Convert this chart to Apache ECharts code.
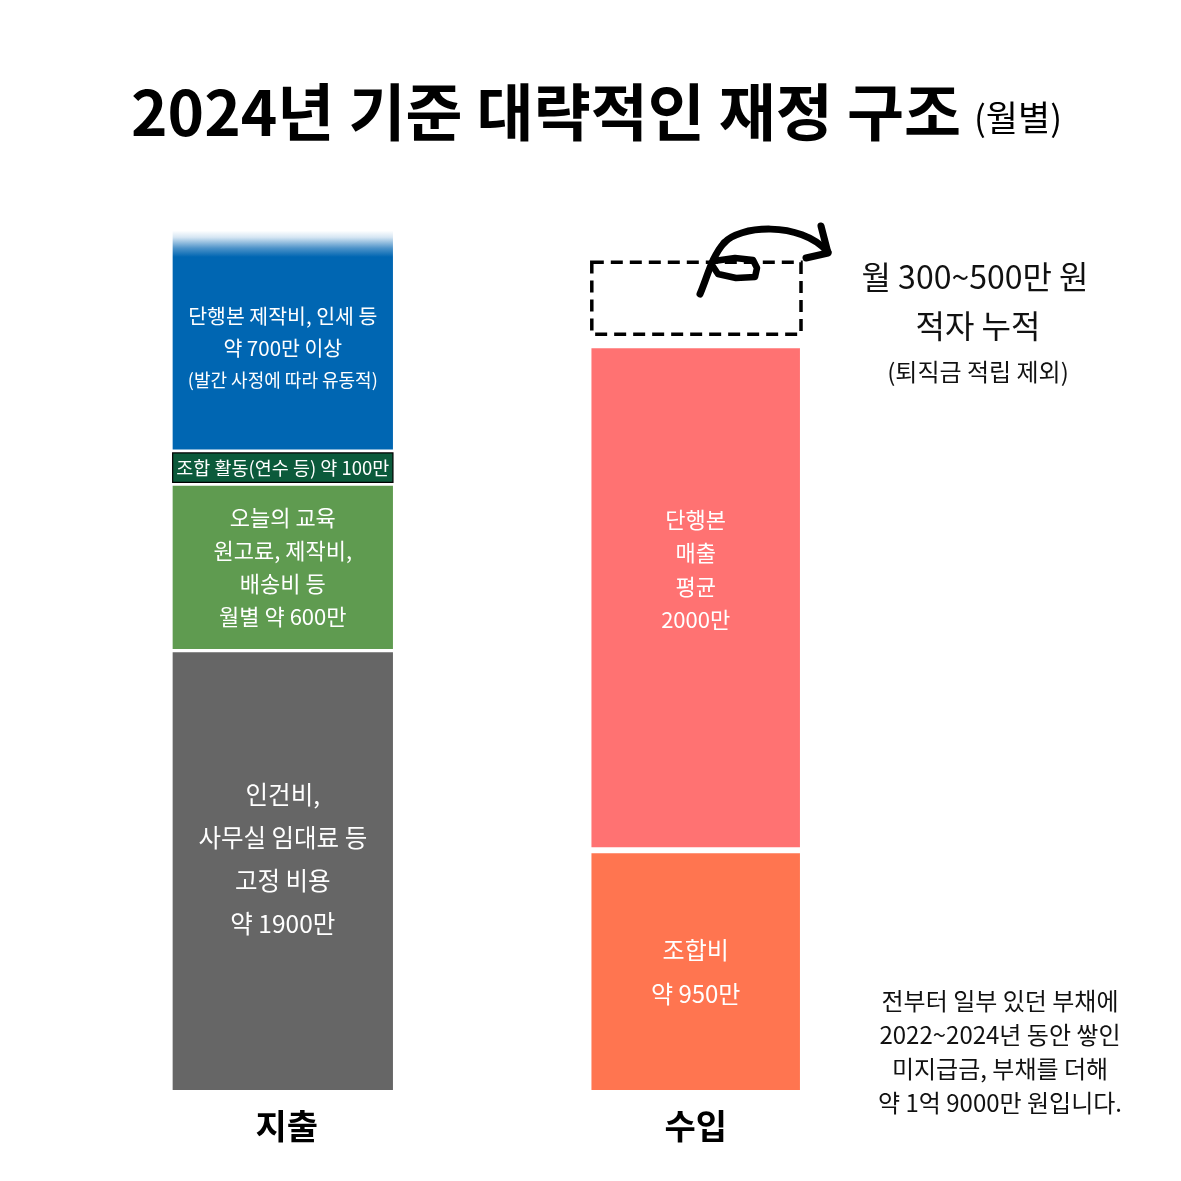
<!DOCTYPE html>
<html>
<head>
<meta charset="utf-8">
<script src="https://cdn.jsdelivr.net/npm/echarts@6/dist/echarts.min.js"></script>
<style>
html,body{margin:0;padding:0;background:#fff;}
#chart{width:1181px;height:1181px;}
</style>
</head>
<body>
<div id="chart"></div>
<script>
// ---- data (values in 만원, estimated from the drawn heights) ----
const expenseCategory = ['지출'];
const incomeCategory = ['수입'];
const expenseItems = ['고정 비용', '오늘의 교육', '조합 활동', '단행본 제작'];
const expenseValues = [1740, 660, 130, 880];
const expenseLabels = [
  ['인건비,', '사무실 임대료 등', '고정 비용', '약 1900만'],
  ['오늘의 교육', '원고료, 제작비,', '배송비 등', '월별 약 600만'],
  ['조합 활동(연수 등) 약 100만'],
  ['단행본 제작비, 인세 등', '약 700만 이상', '(발간 사정에 따라 유동적)']
];
const incomeItems = ['조합비', '단행본 매출'];
const incomeValues = [950, 2000];
const incomeLabels = [
  ['조합비', '약 950만'],
  ['단행본', '매출', '평균', '2000만']
];
const deficitValue = [285];
const deficitNote = ['월 300~500만 원', '적자 누적', '(퇴직금 적립 제외)'];
const debtNote = ['전부터 일부 있던 부채에', '2022~2024년 동안 쌓인', '미지급금, 부채를 더해', '약 1억 9000만 원입니다.'];
const titleMain = '2024년 기준 대략적인 재정 구조';
const titleSub = '(월별)';

// ---- styles ----
const FONT = '"Noto Sans CJK KR", "Noto Sans", sans-serif';
const blueGrad = new echarts.graphic.LinearGradient(0, 0, 0, 1, [
  {offset: 0, color: '#ffffff'},
  {offset: 0.03, color: '#d6e6f3'},
  {offset: 0.08, color: '#4d93c9'},
  {offset: 0.12, color: '#0066b2'},
  {offset: 1, color: '#0066b2'}
]);
const expenseStyles = [
  {fill: '#666666', fontSize: 24.5, lineHeight: 43, offset: [0, -12]},
  {fill: '#5f9b50', fontSize: 22, lineHeight: 33, offset: [0, 0]},
  {fill: '#0b5a3b', stroke: '#000000', lineWidth: 1.2, fontSize: 18.5, lineHeight: 22, offset: [0, 0]},
  {fill: blueGrad, fontSize: 20.5, lineHeight: 32, offset: [0, 8], smallLast: 18}
];
const incomeStyles = [
  {fill: '#ff7550', fontSize: 24, lineHeight: 44, offset: [0, 0]},
  {fill: '#ff7272', fontSize: 22, lineHeight: 33.5, offset: [0, -28]}
];

function stackItems(values) {
  let acc = 0;
  return values.map(function (v, i) { const s = acc; acc += v; return [0, s, acc, i]; });
}

function renderStack(styles, labels, width, gap) {
  return function (params, api) {
    const i = api.value(3);
    const start = api.value(1), end = api.value(2);
    const pb = api.coord([api.value(0), start]);
    const pt = api.coord([api.value(0), end]);
    const st = styles[i];
    const yTop = pt[1] + gap / 2;
    const yBot = pb[1] - (start === 0 ? 0 : gap / 2);
    const lines = labels[i];
    let textStyle;
    if (st.smallLast) {
      const txt = lines.map(function (l, j) { return (j === lines.length - 1 ? '{s|' : '{m|') + l + '}'; }).join('\n');
      textStyle = {
        text: txt, fill: '#fff', fontFamily: FONT, align: 'center',
        rich: {
          m: {fontSize: st.fontSize, lineHeight: st.lineHeight, fill: '#fff', fontFamily: FONT, align: 'center'},
          s: {fontSize: st.smallLast, lineHeight: st.lineHeight, fill: '#fff', fontFamily: FONT, align: 'center'}
        }
      };
    } else {
      textStyle = {
        text: lines.join('\n'), fill: '#fff', fontFamily: FONT,
        fontSize: st.fontSize, lineHeight: st.lineHeight, align: 'center'
      };
    }
    return {
      type: 'rect',
      shape: {x: pb[0] - width / 2, y: yTop, width: width, height: yBot - yTop},
      style: {fill: st.fill, stroke: st.stroke || null, lineWidth: st.lineWidth || 0},
      textContent: {style: textStyle},
      textConfig: {position: 'inside', offset: st.offset}
    };
  };
}

const incomeTotal = incomeValues.reduce(function (a, b) { return a + b; }, 0);
const deficitData = [[0, incomeTotal, incomeTotal + deficitValue[0]]];

const chart = echarts.init(document.getElementById('chart'), null, {renderer: 'canvas'});

const gridCommon = {top: 181, bottom: 91, width: 300, outerBoundsMode: 'none', containLabel: false};
const catLabel = {show: true, fontSize: 34, fontWeight: 'bold', color: '#000', fontFamily: FONT, margin: 19};

function txt(x, y, text, size, extra) {
  return {type: 'text', x: x, y: y, style: Object.assign({
    text: text, fontSize: size, fontFamily: FONT, fill: '#111',
    align: 'center', verticalAlign: 'middle', textAlign: 'center', textVerticalAlign: 'middle'
  }, extra || {})};
}

chart.setOption({
  backgroundColor: '#ffffff',
  animation: false,
  grid: [
    Object.assign({left: 132.8}, gridCommon),
    Object.assign({left: 545.7}, gridCommon)
  ],
  xAxis: [
    {type: 'category', gridIndex: 0, data: expenseCategory, axisLine: {show: false}, axisTick: {show: false},
      axisLabel: Object.assign({padding: [0, 0, 0, 8]}, catLabel)},
    {type: 'category', gridIndex: 1, data: incomeCategory, axisLine: {show: false}, axisTick: {show: false},
      axisLabel: catLabel}
  ],
  yAxis: [
    {type: 'value', gridIndex: 0, min: 0, max: 3600, show: false},
    {type: 'value', gridIndex: 1, min: 0, max: 3600, show: false}
  ],
  series: [
    {
      name: '지출', type: 'custom', xAxisIndex: 0, yAxisIndex: 0,
      renderItem: renderStack(expenseStyles, expenseLabels, 220.3, 3.4),
      encode: {x: 0, y: [1, 2]},
      data: stackItems(expenseValues)
    },
    {
      name: '수입', type: 'custom', xAxisIndex: 1, yAxisIndex: 1,
      renderItem: renderStack(incomeStyles, incomeLabels, 208.5, 6),
      encode: {x: 0, y: [1, 2]},
      data: stackItems(incomeValues)
    },
    {
      name: '적자', type: 'custom', xAxisIndex: 1, yAxisIndex: 1,
      renderItem: function (params, api) {
        const pb = api.coord([api.value(0), api.value(1)]);
        const pt = api.coord([api.value(0), api.value(2)]);
        const inset = 11, w = 209.2;
        return {
          type: 'rect',
          shape: {x: pb[0] + 0.7 - w / 2, y: pt[1] - inset, width: w, height: pb[1] - pt[1]},
          style: {fill: 'none', stroke: '#000', lineWidth: 3.5, lineDash: [12, 7]}
        };
      },
      encode: {x: 0, y: [1, 2]},
      data: deficitData
    }
  ],
  graphic: [
    txt(131, 112, titleMain, 62, {fontWeight: 'bold', fill: '#000', align: 'left', textAlign: 'left'}),
    txt(974, 118, titleSub, 35, {fill: '#000', align: 'left', textAlign: 'left'}),
    txt(975, 277, deficitNote[0], 32),
    txt(978, 326, deficitNote[1], 32),
    txt(978, 372, deficitNote[2], 24),
    txt(1000, 1052, debtNote.join('\n'), 24, {lineHeight: 34}),
    // hand-drawn arrow
    {type: 'bezierCurve', shape: {x1: 700, y1: 294, cpx1: 707, cpy1: 278, cpx2: 712, cpy2: 256, x2: 724, y2: 243},
      style: {stroke: '#000', lineWidth: 7, fill: 'none', lineCap: 'round'}},
    {type: 'bezierCurve', shape: {x1: 724, y1: 243, cpx1: 738, cpy1: 226, cpx2: 800, cpy2: 220, x2: 828, y2: 252},
      style: {stroke: '#000', lineWidth: 7, fill: 'none', lineCap: 'round'}},
    {type: 'polyline', shape: {points: [[821, 226], [828, 253], [806, 258]]},
      style: {stroke: '#000', lineWidth: 7, fill: 'none', lineCap: 'round', lineJoin: 'round'}},
    {type: 'polyline', shape: {points: [[714, 261], [735, 258], [753, 260], [757, 268], [755, 277], [736, 278], [718, 274], [712, 265]]},
      style: {stroke: '#000', lineWidth: 6.5, fill: 'none', lineCap: 'round', lineJoin: 'round'}}
  ]
});
</script>
</body>
</html>
